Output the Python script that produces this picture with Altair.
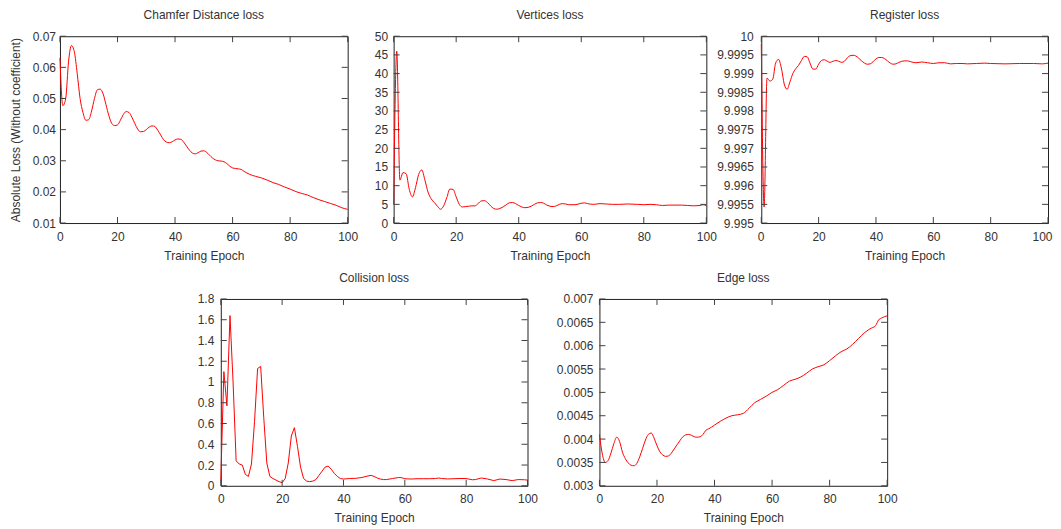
import altair as alt
import pandas as pd

FONT = "Liberation Sans"
TEXT = "#333333"
FRAME = "#202020"
TICKC = "#404040"
RED = "#ff0000"

X_TICKS = [0, 20, 40, 60, 80, 100]

# ---------------- data ----------------
chamfer_epoch = [0, 1, 2, 3, 4, 5, 6, 7, 8, 9, 10, 11, 12, 13, 14, 15, 16, 17, 18, 19,
                 20, 21, 22, 23, 24, 25, 26, 27, 28, 29, 30, 31, 32, 33, 34, 35, 36, 37,
                 38, 39, 40, 41, 42, 43, 44, 45, 46, 47, 48, 49, 50, 51, 52, 53, 54, 55,
                 56, 57, 58, 59, 60, 62, 63, 64, 66, 68, 70, 72, 74, 76, 78, 80, 82, 84,
                 86, 88, 90, 92, 94, 96, 98, 100]
chamfer_loss = [0.063, 0.0477, 0.050, 0.062, 0.067, 0.065, 0.058, 0.050, 0.0455, 0.043,
                0.0432, 0.046, 0.050, 0.0528, 0.0530, 0.0515, 0.048, 0.0445, 0.042, 0.0413,
                0.0415, 0.043, 0.0448, 0.0458, 0.0455, 0.0440, 0.042, 0.0402, 0.0393, 0.0394,
                0.040, 0.0408, 0.0412, 0.0410, 0.0398, 0.0383, 0.0368, 0.0360, 0.0358, 0.0361,
                0.0367, 0.0370, 0.0369, 0.0360, 0.0347, 0.0334, 0.0325, 0.0322, 0.0326, 0.0331,
                0.0332, 0.0327, 0.0318, 0.0309, 0.0303, 0.0300, 0.0299, 0.0297, 0.0291, 0.0283,
                0.0277, 0.0274, 0.0272, 0.0266, 0.0256, 0.0250, 0.0245, 0.0238, 0.0230, 0.0224,
                0.0216, 0.0209, 0.0201, 0.0195, 0.0190, 0.0182, 0.0175, 0.0169, 0.0163, 0.0157,
                0.0149, 0.0144]

vertices_epoch = [0, 1, 2, 3, 4, 5, 6, 7, 8, 9, 10, 11, 12, 13, 14, 15, 16, 17, 18, 19,
                  20, 21, 22, 23, 24, 25, 26, 27, 28, 29, 30, 31, 32, 33, 34, 35, 36, 37,
                  38, 39, 40, 41, 42, 43, 44, 45, 46, 47, 48, 49, 50, 51, 52, 53, 54, 55,
                  56, 58, 60, 61, 62, 64, 66, 68, 70, 72, 75, 78, 80, 82, 84, 86, 88, 90,
                  92, 94, 96, 98, 99, 100]
vertices_loss = [5.0, 46.0, 11.5, 13.5, 13.2, 9.0, 7.0, 9.5, 13.0, 14.2, 11.5, 8.3, 6.5,
                 5.5, 4.5, 3.7, 4.6, 6.8, 9.1, 9.0, 7.0, 5.0, 4.3, 4.4, 4.5, 4.6, 4.6, 5.2,
                 5.9, 6.0, 5.5, 4.6, 3.9, 3.7, 3.9, 4.3, 4.9, 5.4, 5.5, 5.2, 4.7, 4.3, 4.1,
                 4.2, 4.5, 5.0, 5.4, 5.5, 5.3, 4.8, 4.5, 4.4, 4.6, 5.0, 5.2, 5.1, 4.9, 4.9,
                 5.3, 5.4, 5.2, 5.0, 5.2, 5.1, 5.0, 5.0, 5.1, 5.0, 4.9, 5.0, 4.9, 4.7, 4.8,
                 4.8, 4.8, 4.7, 4.6, 4.7, 4.9, 4.6]

register_epoch = [0, 1, 2, 3, 4, 5, 6, 7, 8, 9, 10, 11, 12, 13, 14, 15, 16, 17, 18, 19,
                  20, 21, 22, 23, 24, 25, 26, 27, 28, 29, 30, 31, 32, 33, 34, 35, 36, 37,
                  38, 39, 40, 41, 42, 43, 44, 45, 46, 47, 48, 49, 50, 51, 52, 53, 54, 55,
                  56, 58, 60, 62, 64, 66, 68, 70, 72, 75, 78, 80, 85, 90, 95, 98, 100]
register_loss = [9.9998, 9.99543, 9.99888, 9.99880, 9.99885, 9.99928, 9.99938, 9.99915,
                 9.99872, 9.99858, 9.99878, 9.99900, 9.99913, 9.99922, 9.99935, 9.99946,
                 9.99945, 9.99928, 9.99912, 9.99912, 9.99925, 9.99935, 9.99937, 9.99933,
                 9.99930, 9.99933, 9.99935, 9.99933, 9.99930, 9.99933, 9.99942, 9.99948,
                 9.99949, 9.99947, 9.99941, 9.99934, 9.99928, 9.99925, 9.99926, 9.99932,
                 9.99939, 9.99943, 9.99943, 9.99940, 9.99934, 9.99928, 9.99925, 9.99926,
                 9.99930, 9.99933, 9.99934, 9.99934, 9.99932, 9.99930, 9.99929, 9.99930,
                 9.99931, 9.99929, 9.99927, 9.99929, 9.99929, 9.99926, 9.99927, 9.99927,
                 9.99926, 9.99927, 9.99928, 9.99927, 9.99926, 9.99927, 9.99927, 9.99926,
                 9.99928]

collision_epoch = [0, 1, 2, 3, 4, 5, 6, 7, 8, 9, 10, 11, 12, 13, 14, 15, 16, 17, 18, 19,
                   20, 21, 22, 23, 24, 25, 26, 27, 28, 29, 30, 31, 32, 33, 34, 35, 36, 37,
                   38, 39, 40, 42, 44, 46, 48, 49, 50, 51, 52, 53, 54, 56, 58, 59, 60, 62,
                   64, 66, 68, 70, 71, 72, 74, 76, 78, 80, 82, 83, 85, 87, 89, 91, 93, 95,
                   97, 99, 100]
collision_loss = [0.05, 1.10, 0.77, 1.64, 1.00, 0.24, 0.21, 0.20, 0.11, 0.09, 0.21, 0.62,
                  1.13, 1.15, 0.66, 0.22, 0.09, 0.07, 0.055, 0.04, 0.03, 0.07, 0.22, 0.48,
                  0.56, 0.38, 0.18, 0.07, 0.045, 0.04, 0.045, 0.06, 0.10, 0.14, 0.18, 0.19,
                  0.16, 0.12, 0.09, 0.07, 0.065, 0.07, 0.072, 0.08, 0.095, 0.10, 0.09, 0.075,
                  0.065, 0.06, 0.06, 0.07, 0.08, 0.078, 0.068, 0.065, 0.068, 0.068, 0.068,
                  0.07, 0.075, 0.07, 0.066, 0.068, 0.07, 0.07, 0.058, 0.06, 0.075, 0.065,
                  0.05, 0.065, 0.06, 0.05, 0.06, 0.058, 0.055]

edge_epoch = [0, 1, 2, 3, 4, 5, 6, 7, 8, 9, 10, 11, 12, 13, 14, 15, 16, 17, 18, 19, 20,
              21, 22, 23, 24, 25, 26, 27, 28, 29, 30, 31, 32, 33, 34, 35, 36, 37, 38, 40,
              42, 44, 46, 48, 50, 52, 54, 56, 58, 60, 62, 64, 66, 68, 70, 72, 74, 76, 78,
              80, 82, 84, 86, 88, 90, 92, 94, 96, 97, 98, 100]
edge_loss = [0.0041, 0.00368, 0.0035, 0.00354, 0.0037, 0.0039, 0.00404, 0.00395, 0.00372,
             0.00358, 0.00349, 0.00344, 0.00343, 0.00348, 0.00362, 0.0038, 0.00398, 0.0041,
             0.00413, 0.00402, 0.00386, 0.00373, 0.00366, 0.00363, 0.00364, 0.0037, 0.00379,
             0.00388, 0.00397, 0.00405, 0.00409, 0.0041, 0.00408, 0.00405, 0.00404, 0.00405,
             0.0041, 0.00419, 0.00422, 0.0043, 0.00438, 0.00445, 0.0045, 0.00452, 0.00455,
             0.00466, 0.00478, 0.00485, 0.00492, 0.005, 0.00506, 0.00515, 0.00524, 0.00528,
             0.00533, 0.00541, 0.0055, 0.00555, 0.00559, 0.00568, 0.00578, 0.00587, 0.00593,
             0.00603, 0.00615, 0.00627, 0.00636, 0.00643, 0.00655, 0.00659, 0.00664]

chamfer_yticks = [0.01, 0.02, 0.03, 0.04, 0.05, 0.06, 0.07]
vertices_yticks = [0, 5, 10, 15, 20, 25, 30, 35, 40, 45, 50]
register_yticks = [9.995, 9.9955, 9.996, 9.9965, 9.997, 9.9975, 9.998, 9.9985, 9.999,
                   9.9995, 10]
collision_yticks = [0, 0.2, 0.4, 0.6, 0.8, 1, 1.2, 1.4, 1.6, 1.8]
edge_yticks = [0.003, 0.0035, 0.004, 0.0045, 0.005, 0.0055, 0.006, 0.0065, 0.007]

TITLES = ["Chamfer Distance loss", "Vertices loss", "Register loss", "Collision loss",
          "Edge loss"]
X_TITLE = "Training Epoch"
Y_TITLE = "Absolute Loss (Without coefficient)"

H = 187
TICK_LEN = 6


def panel(title, epochs, losses, yticks, width, interp, label_pad, ytitle=None,
          flush_x=False):
    xs = alt.Scale(domain=[0, 100], nice=False, zero=False)
    ys = alt.Scale(domain=[yticks[0], yticks[-1]], nice=False, zero=False)
    common = dict(labelOverlap=False, ticks=False, tickSize=0,
                  domain=False, grid=False, labelFont=FONT, titleFont=FONT,
                  labelFontSize=12, titleFontSize=12, titleFontWeight="normal",
                  labelColor=TEXT, titleColor=TEXT)
    if flush_x:
        xflush = dict(labelFlush=True, labelFlushOffset=4)
    else:
        xflush = dict(labelFlush=False)
    xaxis = alt.Axis(title=X_TITLE, values=X_TICKS, labelPadding=8, titlePadding=8,
                     **xflush, **common)
    yaxis = alt.Axis(title=ytitle, values=yticks, format="~g", labelPadding=label_pad,
                     titlePadding=10, labelFlush=False, **common)
    df = pd.DataFrame({"epoch": epochs, "loss": losses})
    xt = pd.DataFrame({"epoch": X_TICKS})
    yt = pd.DataFrame({"loss": yticks})

    line = alt.Chart(df).mark_line(color=RED, strokeWidth=1, interpolate=interp).encode(
        x=alt.X("epoch:Q", scale=xs, axis=xaxis),
        y=alt.Y("loss:Q", scale=ys, axis=yaxis),
    )
    bottom = alt.Chart(xt).mark_rule(color=TICKC, strokeWidth=1).encode(
        x=alt.X("epoch:Q", scale=xs, axis=xaxis), y=alt.value(H), y2=alt.value(H - TICK_LEN))
    top = alt.Chart(xt).mark_rule(color=TICKC, strokeWidth=1).encode(
        x=alt.X("epoch:Q", scale=xs, axis=xaxis), y=alt.value(0), y2=alt.value(TICK_LEN))
    left = alt.Chart(yt).mark_rule(color=TICKC, strokeWidth=1).encode(
        y=alt.Y("loss:Q", scale=ys, axis=yaxis), x=alt.value(0), x2=alt.value(TICK_LEN))
    right = alt.Chart(yt).mark_rule(color=TICKC, strokeWidth=1).encode(
        y=alt.Y("loss:Q", scale=ys, axis=yaxis), x=alt.value(width - TICK_LEN),
        x2=alt.value(width))
    return alt.layer(line, bottom, top, left, right).properties(
        width=width, height=H,
        title=alt.TitleParams(title, anchor="middle", frame="group", fontSize=12,
                              fontWeight="normal", color=TEXT, font=FONT, offset=8),
    )


def spacer(w):
    return alt.Chart(pd.DataFrame({"s": [0]})).mark_point(opacity=0).encode(
        x=alt.X("s:Q", axis=None), y=alt.Y("s:Q", axis=None)
    ).properties(width=w, height=H, view=alt.ViewBackground(strokeOpacity=0))


p1 = panel(TITLES[0], chamfer_epoch, chamfer_loss, chamfer_yticks, 288, "monotone", 4.5,
           Y_TITLE)
p2 = panel(TITLES[1], vertices_epoch, vertices_loss, vertices_yticks, 313, "monotone", 6)
p3 = panel(TITLES[2], register_epoch, register_loss, register_yticks, 287, "monotone", 8,
           flush_x=True)
p4 = panel(TITLES[3], collision_epoch, collision_loss, collision_yticks, 307, "linear", 7)
p5 = panel(TITLES[4], edge_epoch, edge_loss, edge_yticks, 288, "monotone", 6.5)

top_row = alt.hconcat(p1, spacer(2), p2, spacer(11), p3, spacing=22, bounds="flush")
bottom_row = alt.hconcat(spacer(89), p4, p5, spacing=72, bounds="flush")

chart = alt.vconcat(top_row, bottom_row, spacing=9).properties(
    padding={"left": 0, "top": 0, "right": 0, "bottom": 0},
    background="white",
).configure_view(
    stroke=FRAME, strokeWidth=1
).configure_axis(
    labelFont=FONT, titleFont=FONT, labelFontSize=12, titleFontSize=12,
    titleFontWeight="normal", labelColor=TEXT, titleColor=TEXT
)

chart.save("out.html", embed_options={"renderer": "svg", "actions": False})
